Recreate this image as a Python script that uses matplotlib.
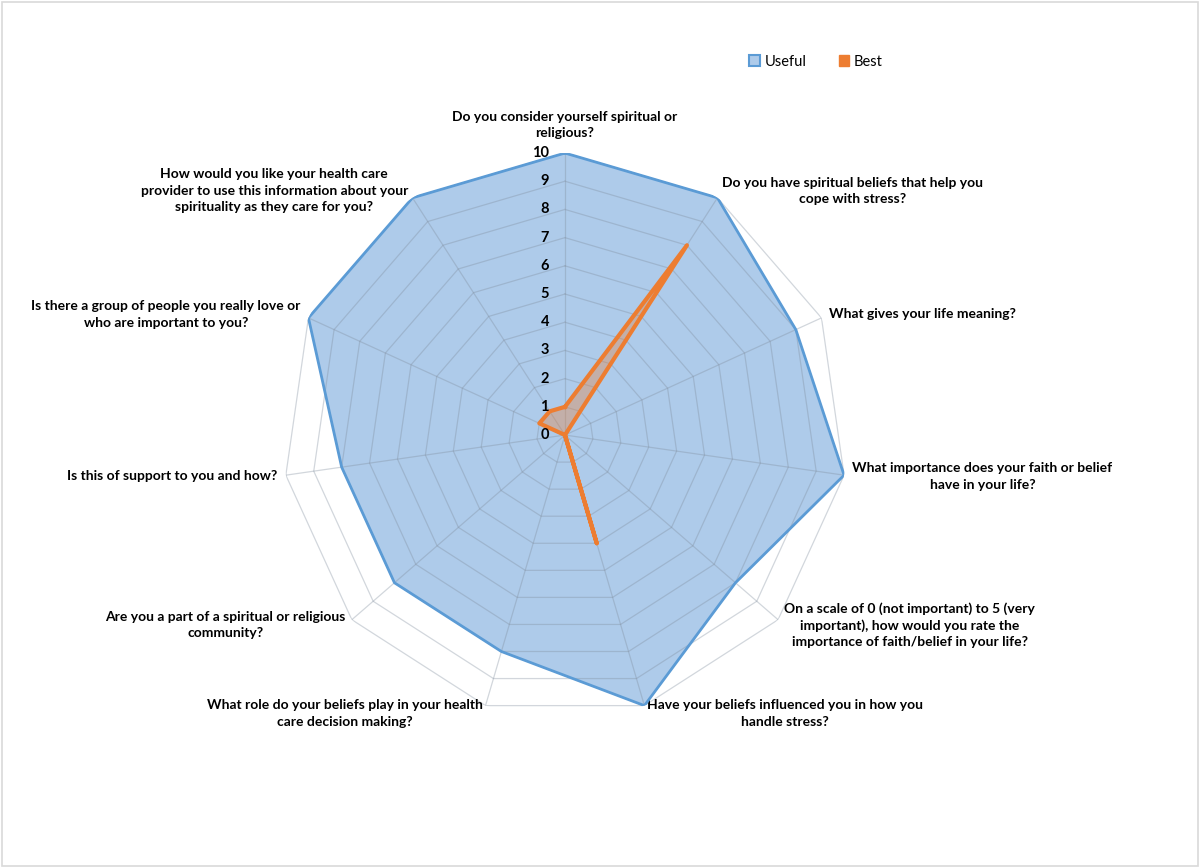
import numpy as np
import matplotlib.pyplot as plt
from matplotlib.patches import Patch, Rectangle

plt.rcParams['font.family'] = ['Lato', 'DejaVu Sans']

# survey questions, clockwise from the top
questions = [
    "Do you consider yourself spiritual or\nreligious?",
    "Do you have spiritual beliefs that help you\ncope with stress?",
    "What gives your life meaning?",
    "What importance does your faith or belief\nhave in your life?",
    "On a scale of 0 (not important) to 5 (very\nimportant), how would you rate the\nimportance of faith/belief in your life?",
    "Have your beliefs influenced you in how you\nhandle stress?",
    "What role do your beliefs play in your health\ncare decision making?",
    "Are you a part of a spiritual or religious\ncommunity?",
    "Is this of support to you and how?",
    "Is there a group of people you really love or\nwho are important to you?",
    "How would you like your health care\nprovider to use this information about your\nspirituality as they care for you?",
]
useful = [10, 10, 9, 10, 8, 10, 8, 8, 8, 10, 10]
best = [1, 8, 0, 0, 0, 4, 0, 0, 0, 1, 1]
ticks = list(range(0, 11))

BLUE_EDGE = '#5B9BD5'
BLUE_FILL = '#AECBEA'
ORANGE = '#ED7D31'

n = len(questions)
angles = np.arange(n) * 2 * np.pi / n
closed = np.append(angles, angles[0])

fig = plt.figure(figsize=(12, 8.68), dpi=100)
fig.patches.append(Rectangle((0.002, 0.002), 0.996, 0.996, transform=fig.transFigure,
                             fill=False, edgecolor='#D9D9D9', linewidth=1.2))

ax = fig.add_axes([0.2358, 0.1739, 0.47, 0.6498], projection='polar')
ax.set_theta_zero_location('N')
ax.set_theta_direction(-1)
ax.set_ylim(0, 10)
ax.grid(False)
ax.spines['polar'].set_visible(False)
ax.set_xticks([])
ax.set_yticks([])
ax.patch.set_alpha(0)

# series
ax.fill(closed, np.append(useful, useful[0]), color=BLUE_FILL, zorder=1)
ax.plot(closed, np.append(useful, useful[0]), color=BLUE_EDGE, linewidth=2, zorder=4)

# polygon grid on top of the blue fill
for r in ticks:
    ax.plot(closed, [r] * (n + 1), color='#7F8C9C', alpha=0.35, linewidth=0.9, zorder=2)
for a in angles:
    ax.plot([a, a], [0, 10], color='#7F8C9C', alpha=0.35, linewidth=0.9, zorder=2)

ax.fill(closed, np.append(best, best[0]), color=ORANGE, alpha=0.35, zorder=5)
ax.plot(closed, np.append(best, best[0]), color=ORANGE, linewidth=3, zorder=6)

# radial tick labels
for r in ticks:
    ax.annotate(str(r), (0, r), xytext=(-11.5, 0), textcoords='offset points',
                ha='right', va='center', fontsize=10.5, fontweight='bold', zorder=7)

# category labels
for a, q in zip(angles, questions):
    s, c = np.sin(a), np.cos(a)
    if abs(s) < 0.05:
        ha, va = 'center', 'bottom'
    else:
        ha = 'left' if s > 0 else 'right'
        va = 'center'
    ax.annotate(q, (a, 10), xytext=(6 * s, 6 * c + 4 * (abs(s) < 0.05)),
                textcoords='offset points', ha=ha, va=va, multialignment='center',
                fontsize=10, fontweight='bold', linespacing=1.45, annotation_clip=False)

handles = [Patch(facecolor=BLUE_FILL, edgecolor=BLUE_EDGE, linewidth=1.5, label='Useful'),
           Patch(facecolor=ORANGE, edgecolor=ORANGE, label='Best')]
fig.legend(handles=handles, loc='center', bbox_to_anchor=(0.68, 0.929), ncol=2,
           frameon=False, fontsize=10.5, handlelength=0.75, handleheight=0.75,
           handletextpad=0.3, columnspacing=2.2)

fig.savefig('out.png', dpi=100)
